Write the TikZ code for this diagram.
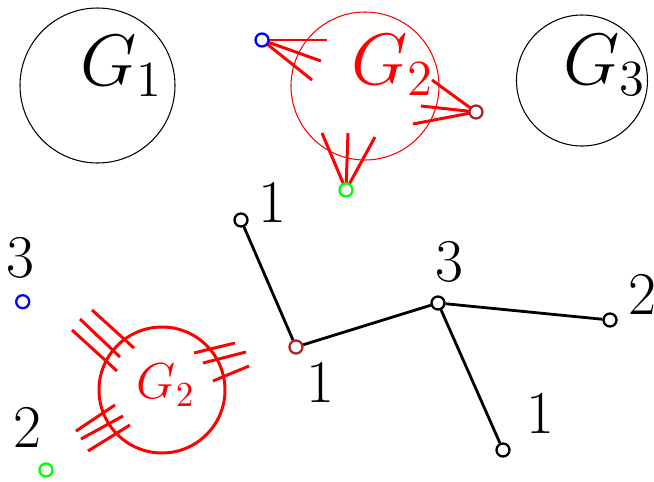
\documentclass[tikz,border=0pt]{standalone}
\usepackage{amsmath}
\usetikzlibrary{calc}
\definecolor{darkbrown}{RGB}{165,42,42}

\begin{document}
\begin{tikzpicture}[
  comp/.style={draw, circle, inner sep=0pt, line width=0.3pt},
  vert/.style={draw, circle, inner sep=0pt, minimum size=1.3mm, line width=0.65pt, fill=white},
  stub/.style={red, line width=0.85pt},
  edge/.style={line width=0.8pt},
  lab/.style={font=\LARGE}
]
  \useasboundingbox (0,0) rectangle (6.54,4.81);

  % Components on top
  \node[comp, minimum size=1.55cm] (G1) at (0.975,3.955) {};
  \node[comp, red, minimum size=1.48cm] (G2) at (3.65,3.95) {};
  \node[comp, minimum size=1.31cm] (G3) at (5.82,4.005) {};
  \node[font=\huge] (G1lab) at (1.22,4.15) {$G_1$};
  \node[font=\huge, red] (G2lab) at (3.93,4.16) {$G_2$};
  \node[font=\huge] (G3lab) at (6.05,4.16) {$G_3$};

  % Half edges of G2
  \draw[stub] (2.62,4.41) -- (3.27,4.41);
  \draw[stub] (2.62,4.41) -- (3.21,4.20);
  \draw[stub] (2.62,4.41) -- (3.12,4.01);
  \draw[stub] (3.46,2.91) -- (3.22,3.48);
  \draw[stub] (3.46,2.91) -- (3.48,3.48);
  \draw[stub] (3.46,2.91) -- (3.75,3.44);
  \draw[stub] (4.76,3.69) -- (4.32,4.01);
  \draw[stub] (4.76,3.69) -- (4.21,3.75);
  \draw[stub] (4.76,3.69) -- (4.13,3.57);
  \node[vert, draw=blue] (bl) at (2.62,4.41) {};
  \node[vert, draw=green] (gr) at (3.46,2.91) {};
  \node[vert, draw=darkbrown] (br) at (4.76,3.69) {};

  % Lonely vertices
  \node[vert, draw=blue] (bl2) at (0.227,1.793) {};
  \node[vert, draw=green] (gr2) at (0.46,0.11) {};
  \node[lab] (bl2lab) at (0.20,2.23) {$3$};
  \node[lab] (gr2lab) at (0.27,0.53) {$2$};

  % Contracted copy of G2
  \node[draw, circle, red, line width=0.85pt, inner sep=0pt, minimum size=1.26cm] (H2) at (1.62,0.91) {};
  \node[font=\Large, red] (H2lab) at (1.66,0.96) {$G_2$};
  \draw[stub] (0.72,1.51) -- (1.17,1.10);
  \draw[stub] (0.80,1.62) -- (1.20,1.24);
  \draw[stub] (0.92,1.71) -- (1.34,1.33);
  \draw[stub] (1.94,1.28) -- (2.35,1.38);
  \draw[stub] (2.03,1.18) -- (2.46,1.29);
  \draw[stub] (2.13,1.00) -- (2.49,1.15);
  \draw[stub] (0.76,0.50) -- (1.15,0.76);
  \draw[stub] (0.81,0.42) -- (1.23,0.65);
  \draw[stub] (0.88,0.30) -- (1.30,0.56);

  % Tree
  \node[vert] (a) at (2.41,2.61) {};
  \node[vert, draw=darkbrown] (b) at (2.96,1.34) {};
  \node[vert] (c) at (4.38,1.78) {};
  \node[vert] (d) at (6.10,1.61) {};
  \node[vert] (e) at (5.03,0.31) {};
  \draw[edge] (a) -- (b);
  \draw[edge] (b) -- (c);
  \draw[edge] (c) -- (d);
  \draw[edge] (c) -- (e);
  \node[lab] (alab) at (2.72,2.78) {$1$};
  \node[lab] (blab) at (3.20,0.98) {$1$};
  \node[lab] (clab) at (4.49,2.19) {$3$};
  \node[lab] (dlab) at (6.42,1.86) {$2$};
  \node[lab] (elab) at (5.40,0.67) {$1$};

\end{tikzpicture}
\end{document}
